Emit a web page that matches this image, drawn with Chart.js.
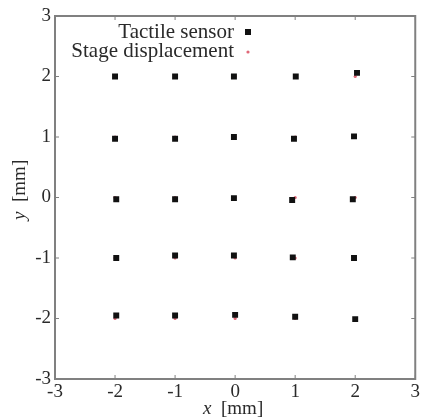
<!DOCTYPE html>
<html>
<head>
<meta charset="utf-8">
<script src="https://cdn.jsdelivr.net/npm/chart.js@4.4.1/dist/chart.umd.min.js"></script>
<style>
  html, body { margin: 0; padding: 0; background: #fff; }
  #wrap { width: 422px; height: 420px; }
</style>
</head>
<body>
<div id="wrap"><canvas id="chart" width="422" height="420"></canvas></div>
<script>
// valores
const tickValues = [-3, -2, -1, 0, 1, 2, 3];
const sensorX = [-2, -1, -0.02, 1.01, 2.03,
                 -2, -1, -0.02, 0.98, 1.98,
                 -1.98, -1, -0.02, 0.95, 1.96,
                 -1.98, -1, -0.02, 0.96, 1.98,
                 -1.98, -1, 0, 1, 2];
const sensorY = [2, 2, 2, 2, 2.06,
                 0.97, 0.97, 1.0, 0.97, 1.01,
                 -0.03, -0.03, -0.01, -0.04, -0.03,
                 -1.0, -0.96, -0.96, -0.99, -1.0,
                 -1.95, -1.95, -1.94, -1.97, -2.01];
const stageX = [-2, -1, 0, 1, 2, -2, -1, 0, 1, 2, -2, -1, 0, 1, 2, -2, -1, 0, 1, 2, -2, -1, 0, 1, 2];
const stageY = [2, 2, 2, 2, 2, 1, 1, 1, 1, 1, 0, 0, 0, 0, 0, -1, -1, -1, -1, -1, -2, -2, -2, -2, -2];

const FRAME = '#808080';
const TEXT = '#2a2a2a';
const SERIF = '"Liberation Serif", "DejaVu Serif", serif';

const toPts = (xs, ys) => xs.map((x, i) => ({ x: x, y: ys[i] }));

// marco, marcas interiores, leyenda y títulos de ejes
const decoPlugin = {
  id: 'deco',
  afterDatasetsDraw(chart) {
    const { ctx, chartArea: a, scales } = chart;
    ctx.save();
    ctx.strokeStyle = FRAME;
    ctx.lineWidth = 2;
    ctx.strokeRect(a.left, a.top, a.right - a.left, a.bottom - a.top);
    ctx.lineWidth = 1;
    ctx.beginPath();
    tickValues.forEach(v => {
      const px = scales.x.getPixelForValue(v);
      ctx.moveTo(px, a.bottom); ctx.lineTo(px, a.bottom - 4);
      ctx.moveTo(px, a.top); ctx.lineTo(px, a.top + 4);
      const py = scales.y.getPixelForValue(v);
      ctx.moveTo(a.left, py); ctx.lineTo(a.left + 4, py);
      ctx.moveTo(a.right, py); ctx.lineTo(a.right - 4, py);
    });
    ctx.stroke();

    // leyenda
    ctx.fillStyle = TEXT;
    ctx.font = '21px ' + SERIF;
    ctx.textAlign = 'right';
    ctx.textBaseline = 'middle';
    ctx.fillText('Tactile sensor', 234, 32);
    ctx.fillText('Stage displacement', 234, 51);
    ctx.fillStyle = '#111';
    ctx.fillRect(245, 29, 6, 6);
    ctx.fillStyle = '#e06878';
    ctx.beginPath(); ctx.arc(248, 52, 1.6, 0, Math.PI * 2); ctx.fill();

    // título eje x
    ctx.fillStyle = TEXT;
    ctx.textAlign = 'left';
    ctx.font = 'italic 19px ' + SERIF;
    ctx.fillText('x', 203, 409);
    ctx.font = '19px ' + SERIF;
    ctx.fillText('[mm]', 221, 409);

    // título eje y
    ctx.translate(20, 200);
    ctx.rotate(-Math.PI / 2);
    ctx.font = 'italic 19px ' + SERIF;
    ctx.fillText('y', -20, 0);
    ctx.font = '19px ' + SERIF;
    ctx.fillText('[mm]', -2, 0);
    ctx.restore();
  }
};

new Chart(document.getElementById('chart'), {
  type: 'scatter',
  data: {
    datasets: [
      {
        label: 'Tactile sensor',
        data: toPts(sensorX, sensorY),
        pointStyle: 'rect',
        pointRadius: 4.2,
        backgroundColor: '#111',
        borderColor: '#111',
        borderWidth: 0,
        order: 1
      },
      {
        label: 'Stage displacement',
        data: toPts(stageX, stageY),
        pointStyle: 'circle',
        pointRadius: 1.6,
        backgroundColor: '#e06878',
        borderWidth: 0,
        order: 2
      }
    ]
  },
  options: {
    responsive: false,
    animation: false,
    layout: { padding: { top: 16, right: 6, left: 0, bottom: 0 } },
    plugins: { legend: { display: false }, tooltip: { enabled: false } },
    scales: {
      x: {
        type: 'linear', min: -3, max: 3,
        afterBuildTicks: s => { s.ticks = tickValues.map(v => ({ value: v })); },
        afterFit: s => { s.height = 41; },
        grid: { display: false, drawTicks: false },
        border: { display: false },
        ticks: { color: TEXT, padding: 2, font: { family: SERIF, size: 19 } }
      },
      y: {
        type: 'linear', min: -3, max: 3,
        afterBuildTicks: s => { s.ticks = tickValues.map(v => ({ value: v })); },
        afterFit: s => { s.width = 55; },
        grid: { display: false, drawTicks: false },
        border: { display: false },
        ticks: { color: TEXT, padding: 4, font: { family: SERIF, size: 19 } }
      }
    }
  },
  plugins: [decoPlugin]
});
</script>
</body>
</html>
